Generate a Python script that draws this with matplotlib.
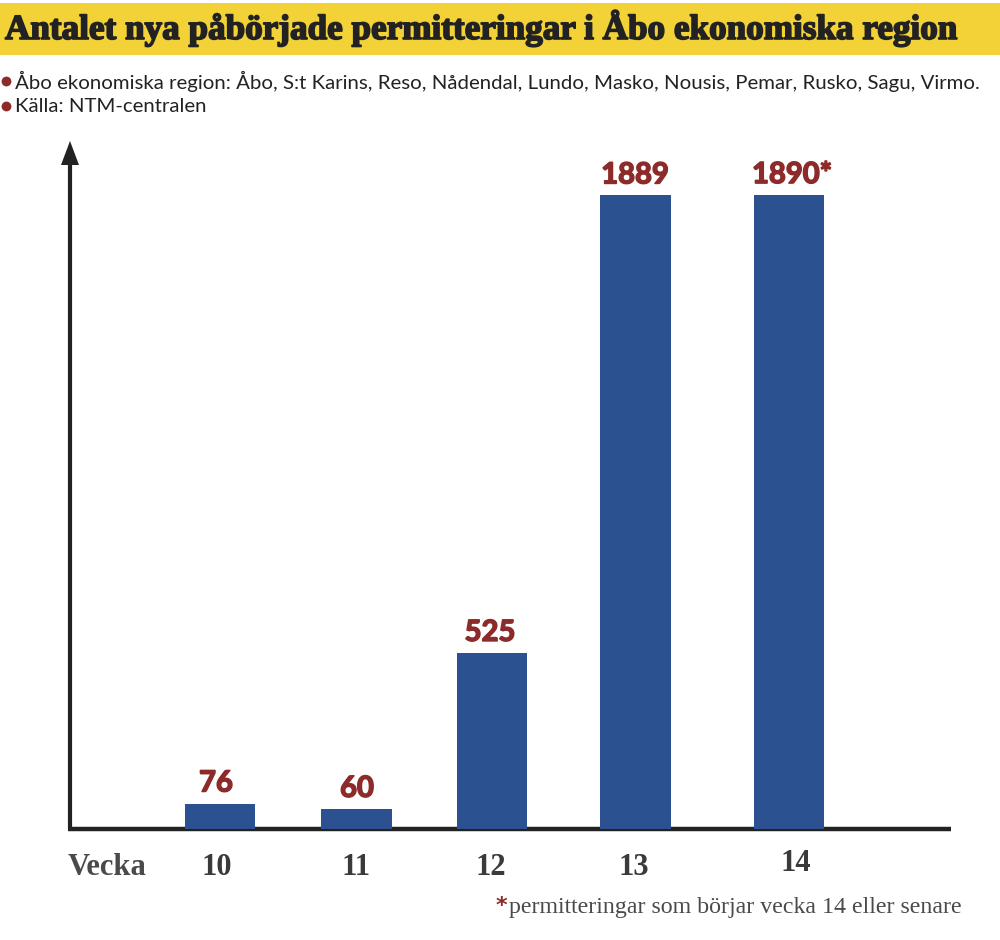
import matplotlib
matplotlib.use("Agg")
import matplotlib.pyplot as plt
import matplotlib.patheffects as pe
from matplotlib.patches import Rectangle

WEEKS = ["10", "11", "12", "13", "14"]
LAYOFFS = [76, 60, 525, 1889, 1890]
VALUE_LABELS = ["76", "60", "525", "1889", "1890*"]

TITLE = "Antalet nya påbörjade permitteringar i Åbo ekonomiska region"
NOTE_REGION = "Åbo ekonomiska region: Åbo, S:t Karins, Reso, Nådendal, Lundo, Masko, Nousis, Pemar, Rusko, Sagu, Virmo."
NOTE_SOURCE = "Källa: NTM-centralen"
FOOTNOTE = "permitteringar som börjar vecka 14 eller senare"

# bar layout is uneven in the original, so everything is placed in pixels
BAR_CENTERS = [220, 356.5, 492, 635.5, 789]
BAR_WIDTH = 70.5
VALUE_LABEL_X = [216, 357, 490, 635, 752]
LABEL_CENTERS = [217, 356, 491, 634, 796]
LABEL_Y = [865, 865, 865, 865, 861]

W, H = 1000, 940
BASE_Y = 829
PX_PER_UNIT = 0.3354

BLUE = "#2C5191"
RED = "#8C2B2A"
DARK = "#222222"
GREY = "#4A4A4A"
YELLOW = "#F2D237"
SERIF = "Liberation Serif"
SANS = "Lato"


def heavy(width, color):
    return [pe.withStroke(linewidth=width, foreground=color)]


fig = plt.figure(figsize=(W / 100, H / 100), dpi=100)

# page layer in pixel coordinates
page = fig.add_axes([0, 0, 1, 1])
page.set_xlim(0, W)
page.set_ylim(H, 0)
page.axis("off")

page.add_patch(Rectangle((0, 3), W, 52, color=YELLOW, linewidth=0))
page.text(5, 39, TITLE, family=SERIF, weight="bold", fontsize=25.3, color=DARK, va="baseline", ha="left",
          path_effects=heavy(1.2, DARK))

page.scatter([6, 6], [81, 106], s=50, color=RED, linewidth=0)
page.text(15, 81, NOTE_REGION, family=SANS, fontsize=14.65, color=DARK, va="center", ha="left")
page.text(15, 106, NOTE_SOURCE, family=SANS, fontsize=14.65, color=DARK, va="center", ha="left")

# bars on a value scale sharing the baseline with the page
ax = fig.add_axes([0, (H - BASE_Y) / H, 1, (BASE_Y - 130) / H])
ax.set_xlim(0, W)
ax.set_ylim(0, (BASE_Y - 130) / PX_PER_UNIT)
ax.axis("off")
ax.patch.set_alpha(0)
ax.bar(BAR_CENTERS, LAYOFFS, width=BAR_WIDTH, color=BLUE, linewidth=0)

for x, value, label in zip(VALUE_LABEL_X, LAYOFFS, VALUE_LABELS):
    ax.annotate(label, (x, value), xytext=(0, 12), textcoords="offset pixels", ha="left" if "*" in label else "center",
                va="baseline", family=SANS, weight="bold", fontsize=21, color=RED, path_effects=heavy(1.1, RED))

# axis lines
page.plot([70, 70], [829, 160], color=DARK, linewidth=3, solid_capstyle="butt")
page.plot([68, 951], [829, 829], color=DARK, linewidth=3.2, solid_capstyle="butt")
page.fill([61, 70, 79], [165, 141, 165], color=DARK, linewidth=0)

page.text(68, 875, "Vecka", family=SERIF, weight="bold", fontsize=22, color=GREY, va="baseline", ha="left")
for x, y, week in zip(LABEL_CENTERS, LABEL_Y, WEEKS):
    page.text(x, y + 10, week, family=SERIF, weight="bold", fontsize=22, color="#3A3A3A", va="baseline", ha="center")

page.text(496, 912, "*", family="DejaVu Sans", weight="bold", fontsize=16, color=RED, va="baseline", ha="left")
page.text(962, 913, FOOTNOTE, family=SERIF, fontsize=17.2, color=GREY, va="baseline", ha="right")

fig.savefig("out.png", dpi=100)
